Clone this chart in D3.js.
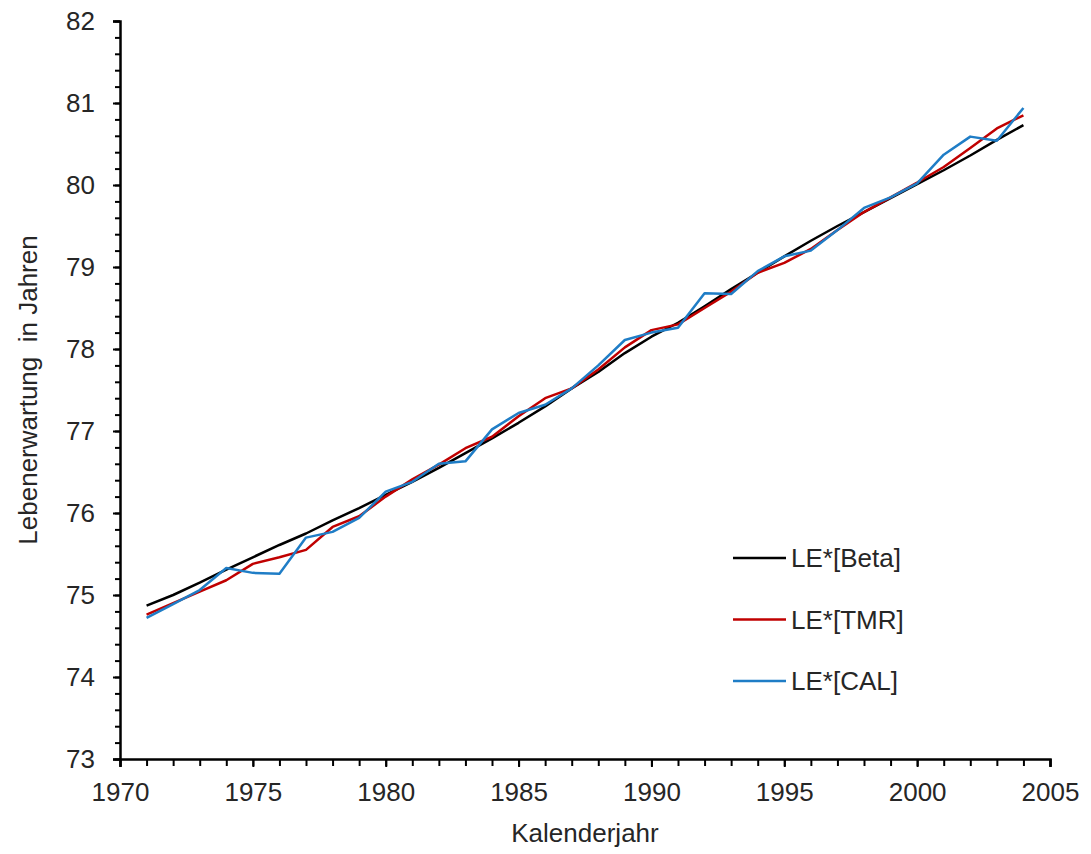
<!DOCTYPE html>
<html>
<head>
<meta charset="utf-8">
<script src="https://d3js.org/d3.v7.min.js"></script>
<style>
  body { margin: 0; background: #fff; }
  text { font-family: "Liberation Sans", Arial, sans-serif; fill: #262626; }
</style>
</head>
<body>
<div id="chart"></div>
<script>
const years = d3.range(1971, 2005);

const beta = [74.87, 75.00, 75.15, 75.31, 75.46, 75.61, 75.75, 75.91, 76.06, 76.22,
  76.38, 76.55, 76.73, 76.91, 77.10, 77.30, 77.52, 77.72, 77.95, 78.15,
  78.32, 78.52, 78.73, 78.93, 79.13, 79.32, 79.50, 79.67, 79.84, 80.01,
  80.18, 80.36, 80.55, 80.73];

const tmr = [74.76, 74.90, 75.04, 75.18, 75.38, 75.46, 75.55, 75.83, 75.96, 76.20,
  76.41, 76.59, 76.79, 76.93, 77.18, 77.40, 77.52, 77.75, 78.02, 78.23,
  78.30, 78.50, 78.70, 78.93, 79.05, 79.22, 79.45, 79.67, 79.85, 80.03,
  80.22, 80.45, 80.69, 80.85];

const cal = [74.72, 74.89, 75.06, 75.33, 75.27, 75.26, 75.70, 75.77, 75.94, 76.26,
  76.38, 76.60, 76.63, 77.02, 77.22, 77.32, 77.52, 77.80, 78.11, 78.20,
  78.26, 78.68, 78.67, 78.95, 79.13, 79.20, 79.45, 79.72, 79.85, 80.02,
  80.37, 80.59, 80.54, 80.94];

const series = [
  { name: "LE*[Beta]", values: beta, color: "#000000" },
  { name: "LE*[TMR]", values: tmr, color: "#C00000" },
  { name: "LE*[CAL]", values: cal, color: "#1F7DC6" }
];

const width = 1091, height = 854;
const margin = { left: 120, right: 41, top: 21, bottom: 95 };
const fontSize = "26px";

const svg = d3.select("#chart").append("svg")
  .attr("width", width)
  .attr("height", height);

const x = d3.scaleLinear().domain([1970, 2005]).range([margin.left, width - margin.right]);
const y = d3.scaleLinear().domain([73, 82]).range([height - margin.bottom, margin.top]);

// minor ticks
svg.append("g")
  .attr("transform", `translate(0,${y(73)})`)
  .call(d3.axisBottom(x).tickValues(d3.range(1970, 2006, 1)).tickSize(7).tickFormat(""))
  .call(g => g.select(".domain").remove())
  .selectAll("line").attr("stroke", "#000").attr("stroke-width", 2);

svg.append("g")
  .attr("transform", `translate(${x(1970)},0)`)
  .call(d3.axisLeft(y).tickValues(d3.range(73, 82.01, 0.2)).tickSize(5).tickFormat(""))
  .call(g => g.select(".domain").remove())
  .selectAll("line").attr("stroke", "#000").attr("stroke-width", 2);

// major ticks and labels
const xAxis = svg.append("g")
  .attr("transform", `translate(0,${y(73)})`)
  .call(d3.axisBottom(x).tickValues(d3.range(1970, 2006, 5)).tickSize(8).tickPadding(16).tickFormat(d3.format("d")));
xAxis.select(".domain").attr("stroke", "#000").attr("stroke-width", 2.5);
xAxis.selectAll("line").attr("stroke", "#000").attr("stroke-width", 2);
xAxis.selectAll("text").style("font-size", fontSize);

const yAxis = svg.append("g")
  .attr("transform", `translate(${x(1970)},0)`)
  .call(d3.axisLeft(y).tickValues(d3.range(73, 83, 1)).tickSize(7).tickPadding(18).tickFormat(d3.format("d")));
yAxis.select(".domain").attr("stroke", "#000").attr("stroke-width", 2.5);
yAxis.selectAll("line").attr("stroke", "#000").attr("stroke-width", 2);
yAxis.selectAll("text").style("font-size", fontSize);

// lines
const line = d3.line()
  .x((d, i) => x(years[i]))
  .y(d => y(d));

svg.append("g")
  .selectAll("path")
  .data(series)
  .join("path")
  .attr("fill", "none")
  .attr("stroke", d => d.color)
  .attr("stroke-width", 2.5)
  .attr("stroke-linejoin", "round")
  .attr("d", d => line(d.values));

// legend
const legend = svg.append("g")
  .selectAll("g")
  .data(series)
  .join("g")
  .attr("transform", (d, i) => `translate(733,${558 + i * 61.5})`);

legend.append("line")
  .attr("x1", 0).attr("x2", 53)
  .attr("stroke", d => d.color)
  .attr("stroke-width", 2.5);

legend.append("text")
  .attr("x", 58)
  .attr("dy", "0.36em")
  .style("font-size", fontSize)
  .text(d => d.name);

// axis titles
svg.append("text")
  .attr("x", (x(1970) + x(2005)) / 2)
  .attr("y", 842)
  .attr("text-anchor", "middle")
  .style("font-size", fontSize)
  .text("Kalenderjahr");

svg.append("text")
  .attr("transform", `translate(37,${(y(73) + y(82)) / 2}) rotate(-90)`)
  .attr("text-anchor", "middle")
  .style("font-size", fontSize)
  .style("white-space", "pre")
  .text("Lebenerwartung  in Jahren");
</script>
</body>
</html>
